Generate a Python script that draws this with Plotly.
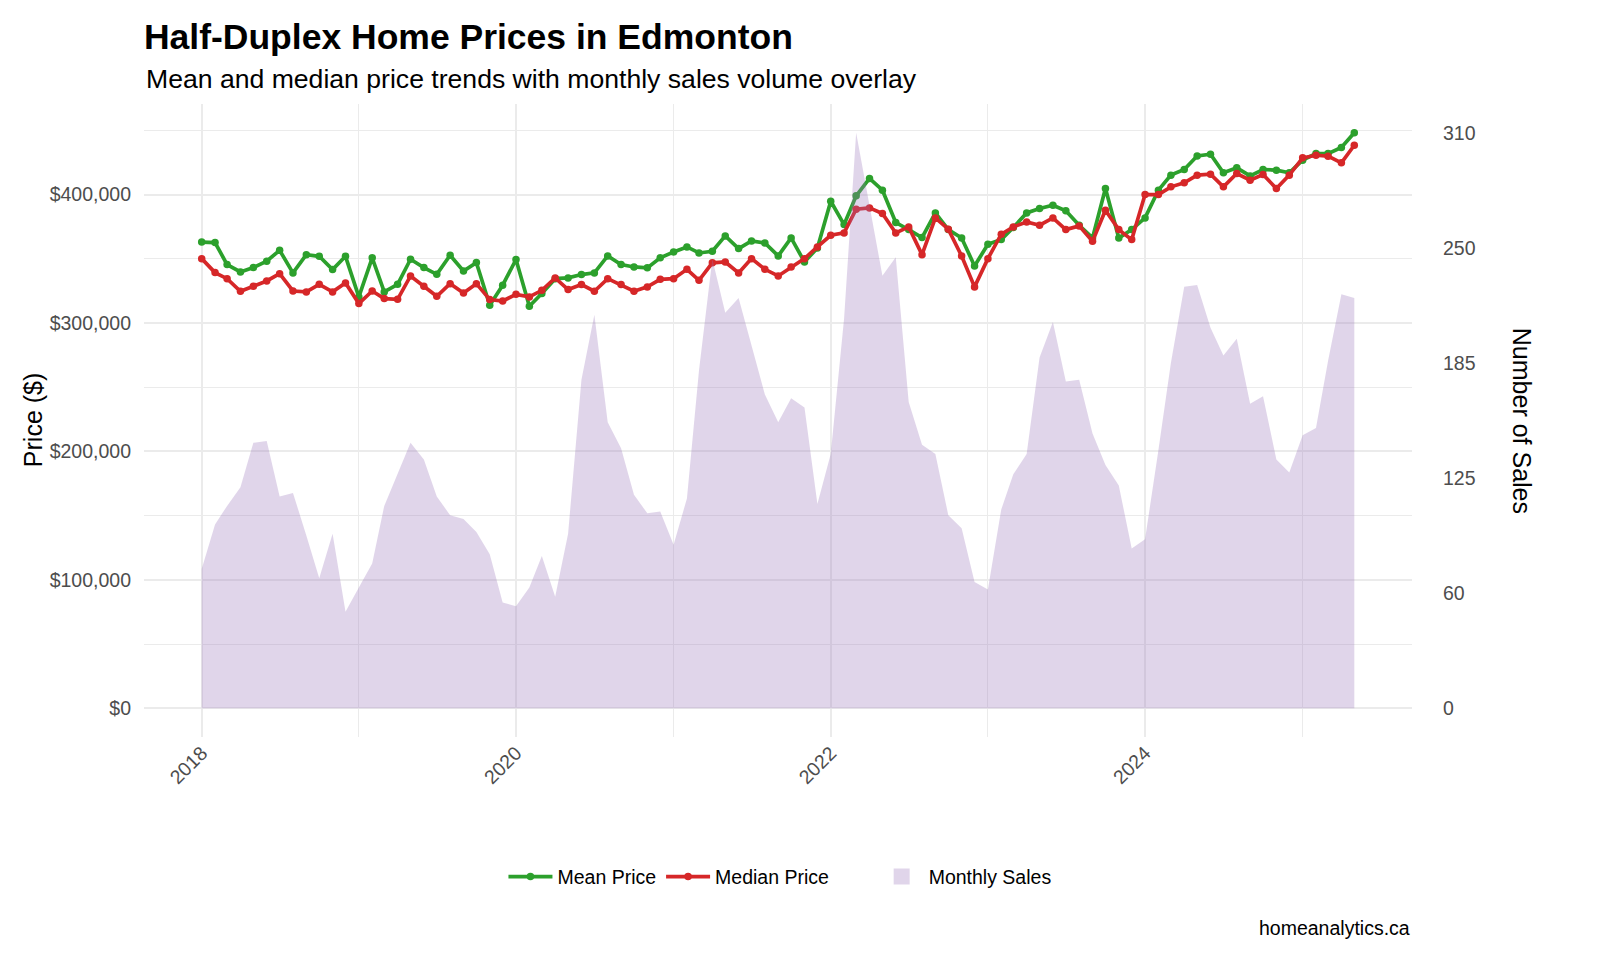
import pandas as pd
import plotly.graph_objects as go

# Monthly figures, Jan 2018 - May 2025
months = pd.date_range("2018-01-01", "2025-05-01", freq="MS")

mean_price = [
    363000, 362600, 345500, 339700, 343100, 348100, 356600, 339000, 353200, 351900, 341600, 351900,
    320300, 350700, 324200, 330100, 349600, 343100, 337900, 352700, 340500, 347000, 313800, 329400,
    349400, 313000, 322900, 334500, 335100, 337700, 339000, 352200, 345500, 343600, 342900, 350700,
    355300, 359200, 354500, 355800, 367800, 357900, 363900, 362300, 352200, 366200, 347500, 358400,
    394800, 376600, 399000, 412500, 403400, 378200, 372700, 366500, 385700, 372700, 366200, 344400,
    361300, 364900, 374300, 385700, 389100, 391700, 387300, 376100, 366200, 404700, 366200, 372700,
    381800, 403400, 415100, 419500, 430100, 431400, 416900, 420800, 414500, 419500, 419000, 416900,
    426800, 431900, 431900, 436600, 448100,
]

median_price = [
    350100, 339200, 334500, 324700, 328600, 332700, 338400, 324900, 324200, 330100, 324200, 331200,
    315100, 324900, 319000, 318400, 336600, 328600, 320800, 330600, 323400, 330600, 318200, 317100,
    322300, 320300, 325400, 335100, 326000, 329900, 324700, 334500, 329900, 324700, 328100, 334000,
    334500, 341800, 333200, 346800, 347500, 339000, 350100, 341800, 336600, 343600, 350100, 359200,
    368300, 370100, 388600, 389600, 385200, 370100, 374800, 353200, 381800, 373000, 352200, 328100,
    350100, 369100, 374800, 378700, 376100, 381800, 372700, 375600, 363600, 387800, 372700, 364900,
    400000, 400000, 406000, 409100, 415100, 415800, 406000, 416400, 411200, 415600, 404700, 415100,
    428600, 430600, 429900, 424700, 438400,
]

sales = [
    75, 99, 109, 119, 143, 144, 114, 116, 93, 70, 94, 52,
    65, 78, 109, 126, 143, 134, 114, 104, 102, 95, 83, 57,
    55, 65, 82, 60, 94, 177, 212, 154, 140, 115, 105, 106,
    88, 113, 182, 242, 213, 221, 195, 169, 154, 167, 162, 110,
    137, 210, 310, 271, 233, 243, 165, 142, 137, 104, 97, 68,
    64, 107, 126, 137, 189, 208, 176, 177, 148, 131, 120, 86,
    91, 139, 186, 227, 228, 205, 190, 199, 164, 168, 134, 127,
    147, 151, 187, 223, 221,
]

sales_ticks = [0, 62, 124, 186, 248, 310]
sales_tick_text = ["0", "60", "125", "185", "250", "310"]

# secondary axis scale: max sales lines up with max mean price
scale = max(mean_price) / max(sales)
pad = max(mean_price) * 0.05
y_range = [-pad, max(mean_price) + pad]
y2_range = [v / scale for v in y_range]

FONT = "Liberation Sans, Arial, Helvetica, sans-serif"
GRID = "#ebebeb"
AREA = "rgba(152,115,185,0.3)"
TICK = dict(size=19.5, color="#4d4d4d")

fig = go.Figure()

fig.add_trace(go.Scatter(
    x=months, y=mean_price, name="Mean Price", mode="lines+markers",
    line=dict(color="#2ca02c", width=3.7), marker=dict(size=7.5, color="#2ca02c"),
))
fig.add_trace(go.Scatter(
    x=months, y=median_price, name="Median Price", mode="lines+markers",
    line=dict(color="#d62728", width=3.7), marker=dict(size=7.5, color="#d62728"),
))
# area on the overlaying axis so it sits above the lines, like the original
fig.add_trace(go.Scatter(
    x=months, y=sales, name="Monthly Sales", mode="lines", yaxis="y2",
    fill="tozeroy", fillcolor=AREA, line=dict(width=0), showlegend=False,
))
# square key for the area, in its own legend like ggplot's separate fill guide
fig.add_trace(go.Scatter(
    x=[None], y=[None], name="Monthly Sales", mode="markers", yaxis="y2",
    marker=dict(symbol="square", size=30, color=AREA), legend="legend2",
))

legend_common = dict(
    orientation="h", y=-0.221, yanchor="middle", xanchor="center",
    font=dict(size=19.5, color="#000000"), itemsizing="trace", itemwidth=44,
    bgcolor="rgba(0,0,0,0)",
)

fig.update_layout(
    width=1584, height=944,
    paper_bgcolor="white", plot_bgcolor="white",
    font=dict(family=FONT, color="#000000"),
    margin=dict(l=136, r=180, t=96, b=215),
    showlegend=True,
    legend=dict(x=0.414, traceorder="normal", **legend_common),
    legend2=dict(x=0.648, **legend_common),
    xaxis=dict(
        type="date",
        range=["2017-08-20", "2025-09-12"],
        tick0="2018-01-01", dtick="M24", tickformat="%Y",
        tickangle=-45, tickfont=TICK,
        showgrid=True, gridcolor=GRID, gridwidth=1.6,
        minor=dict(dtick="M12", showgrid=True, gridcolor=GRID, gridwidth=0.8),
        zeroline=False, showline=False, automargin=False,
    ),
    yaxis=dict(
        range=y_range,
        tick0=0, dtick=100000, tickprefix="$", tickformat=",",
        tickfont=TICK, ticklabelstandoff=12,
        showgrid=True, gridcolor=GRID, gridwidth=1.6,
        minor=dict(dtick=50000, showgrid=True, gridcolor=GRID, gridwidth=0.8),
        zeroline=False, showline=False, automargin=False,
    ),
    yaxis2=dict(
        overlaying="y", side="right", range=y2_range,
        tickmode="array", tickvals=sales_ticks, ticktext=sales_tick_text,
        tickfont=TICK, ticklabelstandoff=30,
        showgrid=False, zeroline=False, showline=False, automargin=False,
    ),
    title=dict(
        text="<b>Half-Duplex Home Prices in Edmonton</b>",
        x=0.0858, xanchor="left", y=0.9696, yanchor="middle",
        font=dict(size=35.5, color="#000000", family=FONT),
    ),
)

fig.add_annotation(
    text="Mean and median price trends with monthly sales volume overlay",
    xref="paper", yref="paper", x=0, y=1.0398, xanchor="left", yanchor="middle",
    showarrow=False, font=dict(size=26.6, color="#000000"),
)
fig.add_annotation(
    text="Price ($)", xref="paper", yref="paper", x=-0.0878, y=0.5,
    xanchor="center", yanchor="middle",
    textangle=-90, showarrow=False, font=dict(size=25, color="#000000"),
)
fig.add_annotation(
    text="Number of Sales", xref="paper", yref="paper", x=1.0873, y=0.5,
    xanchor="center", yanchor="middle",
    textangle=90, showarrow=False, font=dict(size=25, color="#000000"),
)
fig.add_annotation(
    text="homeanalytics.ca", xref="paper", yref="paper", x=1, y=-0.3016,
    xanchor="right", yanchor="middle", showarrow=False,
    font=dict(size=19.5, color="#000000"),
)

fig.write_html("out.html")
